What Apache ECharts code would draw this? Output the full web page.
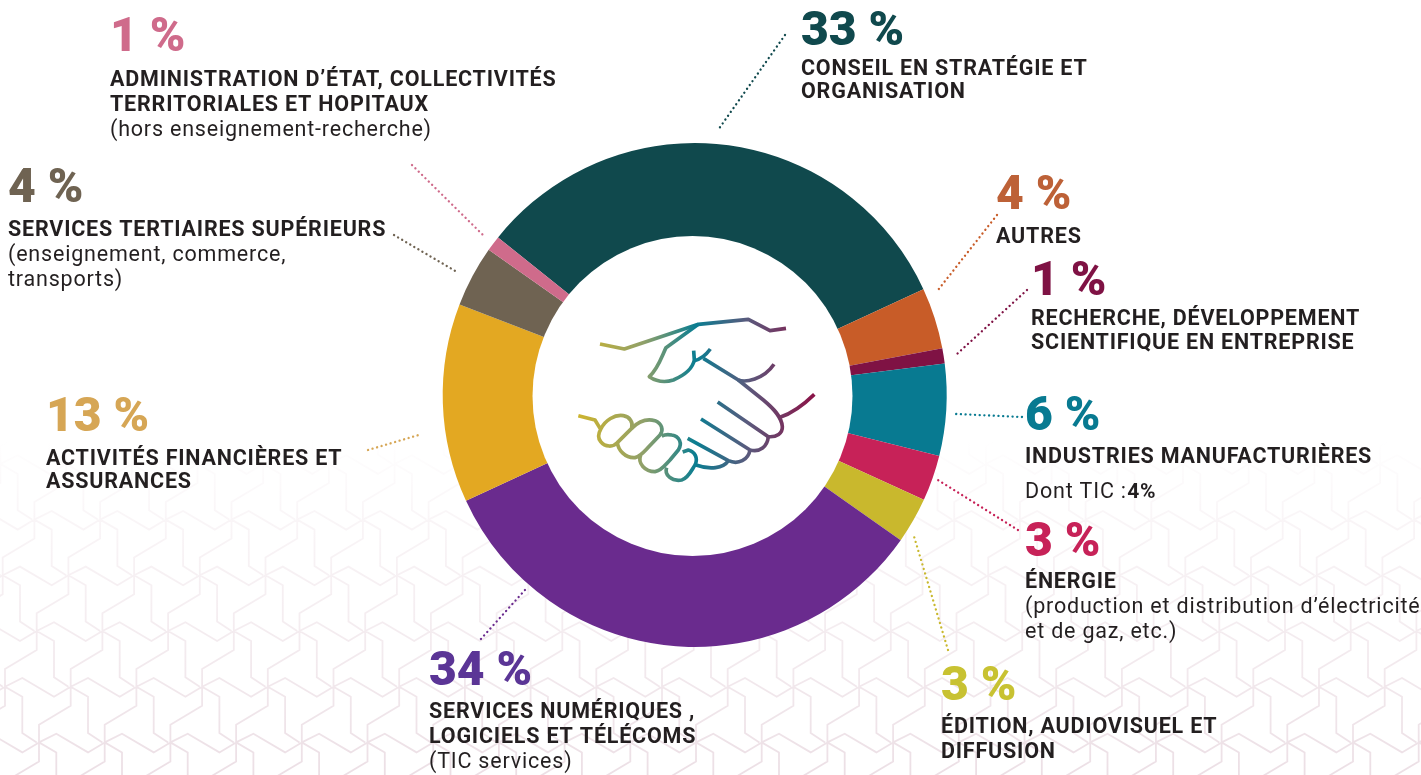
<!DOCTYPE html>
<html><head><meta charset="utf-8">
<style>html,body{margin:0;padding:0;background:#fff}#c{width:1421px;height:775px}</style>
<script src="https://cdn.jsdelivr.net/npm/echarts@6/dist/echarts.min.js"></script>
</head><body><div id="c"></div>
<script>
// DATA
const categories = ["Conseil en stratégie et organisation","Autres","Recherche, développement scientifique en entreprise","Industries manufacturières","Énergie","Édition, audiovisuel et diffusion","Services numériques, logiciels et télécoms","Activités financières et assurances","Services tertiaires supérieurs","Administration d’État, collectivités territoriales et hopitaux"];
const values = [33,4,1,6,3,3,34,13,4,1];
const boldLines = [
 ["CONSEIL EN STRATÉGIE ET","ORGANISATION"],
 ["AUTRES"],
 ["RECHERCHE, DÉVELOPPEMENT","SCIENTIFIQUE EN ENTREPRISE"],
 ["INDUSTRIES MANUFACTURIÈRES"],
 ["ÉNERGIE"],
 ["ÉDITION, AUDIOVISUEL ET","DIFFUSION"],
 ["SERVICES NUMÉRIQUES ,","LOGICIELS ET TÉLÉCOMS"],
 ["ACTIVITÉS FINANCIÈRES ET","ASSURANCES"],
 ["SERVICES TERTIAIRES SUPÉRIEURS"],
 ["ADMINISTRATION D’ÉTAT, COLLECTIVITÉS","TERRITORIALES ET HOPITAUX"]
];
const noteLines = [
 [],[],[],[],
 ["(production et distribution d’électricité","et de gaz, etc.)"],
 [],
 ["(TIC services)"],
 [],
 ["(enseignement, commerce,","transports)"],
 ["(hors enseignement-recherche)"]
];
const ticNote = "Dont TIC : ";
const ticValue = "4%";

// STYLE / LAYOUT
const sliceColors = ["#10494d","#c85c28","#7f1244","#087a91","#c72258","#c9b82d","#6a2b8e","#e3a822","#6f6352","#cf6b8b"];
const pctColors  = ["#10494d","#bd6137","#7f1244","#087a91","#c72258","#c8c232","#5b3596","#d6a655","#6f6352","#cf6b8b"];
const labelX = [801,996,1031,1025,1025,941,429,46,8,110];
const pctCentreY = [33,197,283,418,544,688,673,419,190,39];
const pctGap = [37,41,37,40,39,40,40,41,41,42];
const boldLeading = [23,25,24,25,25,25,25,23,25,25];
const leaders = [
 [785,35,718,130],[997,215,938,290],[1027,290,957,354],[1022,417,956,414],[1018,530,938,480],
 [948,650,913,533],[525,590,480,640],[368,450,422,434],[394,235,457,272],[412,165,484,236]
];
const LINE = 25, BOLD_FS = 21.5, NOTE_FS = 21.5, PCT_FS = 48, SPACING = "0.8px";
const FONT = "Roboto";
const CX = 694.7, CY = 395, R_OUT = 252;
const HOLE_X = 692.5, HOLE_Y = 396, HOLE_R = 160;

// the reference's type is letter-spaced: apply it when text is painted, except on the big percentages
const paintText = CanvasRenderingContext2D.prototype.fillText;
CanvasRenderingContext2D.prototype.fillText = function(){
  this.letterSpacing = this.font.indexOf(PCT_FS+"px") >= 0 ? "0px" : SPACING;
  return paintText.apply(this, arguments);
};

function labelText(i){
  const out=[`{pct|${values[i]} %}`];
  boldLines[i].forEach(s=>out.push(`{b|${s}}`));
  noteLines[i].forEach(s=>out.push(`{n|${s}}`));
  if(i===3) out.push(`{tic|${ticNote}}{ticb|${ticValue}}`);
  return out.join("\n");
}
const pctLineHeight = i => 2*pctGap[i]-boldLeading[i];
const pieData = categories.map((name,i)=>({
  name, value:values[i],
  itemStyle:{color:sliceColors[i]},
  label:{formatter:labelText(i),rich:{
    pct:{fontFamily:FONT,fontWeight:900,fontSize:PCT_FS,color:pctColors[i],lineHeight:pctLineHeight(i)},
    b:{fontFamily:FONT,fontWeight:700,fontSize:BOLD_FS,color:"#231f20",lineHeight:boldLeading[i]},
    n:{fontFamily:FONT,fontWeight:400,fontSize:NOTE_FS,color:"#231f20",lineHeight:LINE},
    tic:{fontFamily:FONT,fontWeight:400,fontSize:NOTE_FS,color:"#231f20",lineHeight:45,padding:[0,3,0,0]},
    ticb:{fontFamily:FONT,fontWeight:700,fontSize:21,color:"#231f20",lineHeight:45}
  }}
}));

// background pattern (decoration)
function patternPath(){
  const a=[65.7,0], b=[31.7,-55.7], o=[36.7,631];
  let d="";
  for(let m=-4;m<6;m++) for(let n=-8;n<28;n++){
    const x=o[0]+n*a[0]+m*b[0], y=o[1]+m*b[1];
    if(y<400||y>860||x<-80||x>1500) continue;
    const P=(pts)=>{d+=pts.map((p,k)=>(k?"L":"M")+(x+p[0]/3).toFixed(1)+" "+(y+p[1]/3).toFixed(1)).join(" ")+" ";};
    P([[0,0],[0,-53],[95,-110],[95,-166]]);
    P([[0,0],[52,30],[52,139],[95,167]]);
    P([[0,0],[52,-26],[147,30],[197,0]]);
  }
  return d;
}
function regPath(name,d){ echarts.graphic.registerShape(name, echarts.graphic.extendPath(d,{})); return name; }
const handGrad = {type:"linear",global:true,x:55,y:0,x2:760,y2:0,colorStops:[
  {offset:0,color:"#cdb42f"},{offset:.28,color:"#8fa06a"},{offset:.5,color:"#0a7d91"},{offset:.72,color:"#5a5a7d"},{offset:1,color:"#8a1448"}]};
const handPaths = [
 "M120 132 L193 147 L415 73 L565 58 L630 92 L678 85",
 "M415 73 L318 143 C305 170 295 205 268 230 C290 245 315 248 340 240 C375 225 398 205 403 180 L401 152",
 "M403 182 C420 178 438 165 451 147",
 "M430 175 L535 240 C555 248 610 240 642 193",
 "M535 240 L610 300 C640 325 665 350 667 380 C668 400 650 412 625 410 L473 306",
 "M660 352 C695 340 730 315 763 283",
 "M625 410 C622 440 600 458 570 450 L423 357",
 "M570 450 C565 480 535 495 505 482 L383 415",
 "M505 482 C490 505 450 510 408 495",
 "M55 347 L105 360 L122 388 C135 360 165 343 190 347 C210 350 220 368 215 385 L172 428 C160 442 135 442 122 425 C112 412 115 400 122 388",
 "M172 428 C175 450 195 475 225 473 C240 470 250 458 262 445 L300 405 C312 390 305 370 285 362 C260 355 235 365 215 385",
 "M242 465 C232 490 255 515 285 515 C305 512 315 495 330 480 L355 450 C368 430 358 408 335 405 C325 403 315 403 305 408",
 "M320 503 C312 525 335 545 365 540 C385 535 395 510 405 495 C415 475 405 455 385 450 L368 456"
];
const graphics = [
 {type:regPath("bgPattern",patternPath()),z:0,silent:true,style:{fill:null,lineWidth:1.8,stroke:{type:"linear",global:true,x:0,y:440,x2:0,y2:775,colorStops:[{offset:0,color:"rgba(236,222,229,0)"},{offset:.35,color:"rgba(240,229,234,.5)"},{offset:1,color:"#ecdfe5"}]}}},
 {type:"circle",z:3,silent:true,shape:{cx:HOLE_X,cy:HOLE_Y,r:HOLE_R},style:{fill:"#fff"}}
];
handPaths.forEach((p,i)=>graphics.push({type:regPath("hand"+i,p),z:5,silent:true,x:560,y:300,scaleX:1/3,scaleY:1/3,
  style:{fill:null,stroke:handGrad,lineWidth:11,lineCap:"butt",lineJoin:"round"}}));
leaders.forEach((l,i)=>graphics.push({type:"line",z:5,silent:true,shape:{x1:l[0],y1:l[1],x2:l[2],y2:l[3]},
  style:{stroke:i===7?pctColors[i]:sliceColors[i],lineWidth:2.3,lineCap:"round",lineDash:[0.1,4.6]}}));

const chart = echarts.init(document.getElementById("c"),null,{renderer:"canvas"});
chart.setOption({
  animation:false,
  backgroundColor:"#fff",
  graphic:{elements:graphics},
  series:[{
    type:"pie", z:2, silent:true,
    center:[CX,CY], radius:[140,R_OUT],
    startAngle:141.3, clockwise:true, avoidLabelOverlap:false,
    itemStyle:{borderWidth:0},
    label:{show:true,position:"outside"},
    labelLine:{show:false},
    labelLayout:(p)=>{
      const i=p.dataIndex;
      return {x:labelX[i], y:pctCentreY[i]-pctLineHeight(i)/2, align:"left", verticalAlign:"top", hideOverlap:false, moveOverlap:null};
    },
    data:pieData
  }]
});
</script></body></html>
